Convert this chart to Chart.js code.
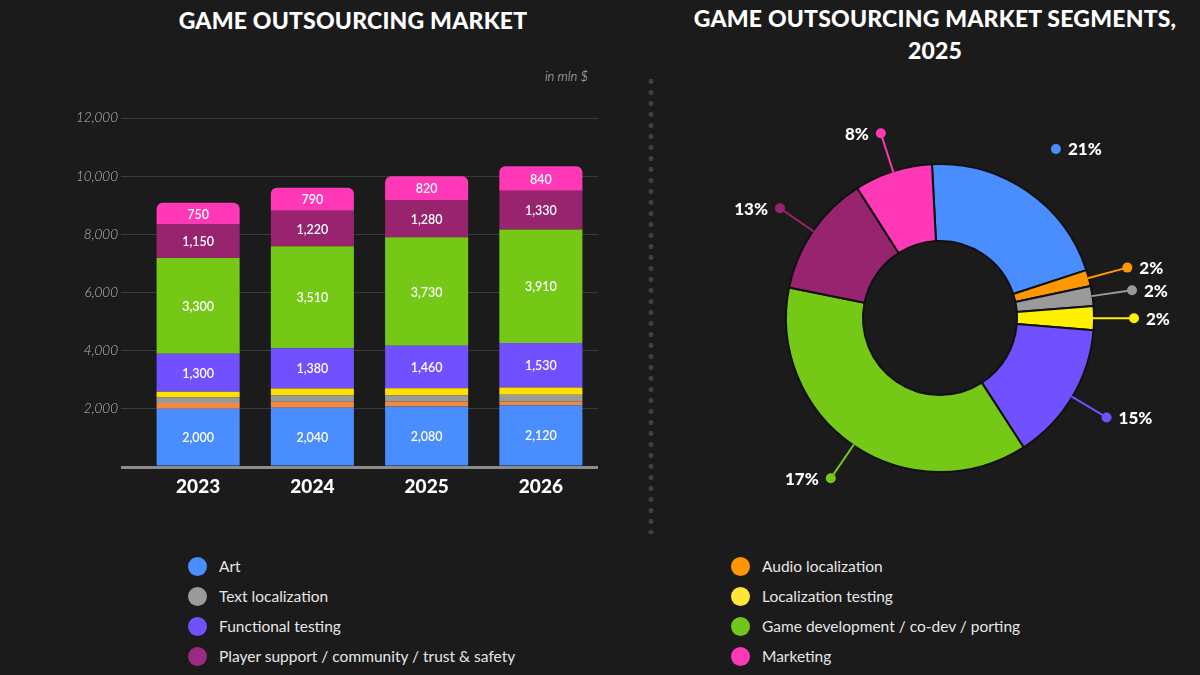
<!DOCTYPE html>
<html>
<head>
<meta charset="utf-8">
<script src="https://cdn.jsdelivr.net/npm/chart.js@4.4.1/dist/chart.umd.min.js"></script>
<style>
  html, body { margin:0; padding:0; background:#1b1b1b; }
  body { width:1200px; height:675px; position:relative; overflow:hidden; font-family:'Lato', sans-serif; color:#fff; }
  .title { position:absolute; text-align:center; font-weight:900; font-size:23px; line-height:32px; letter-spacing:0.2px; color:#fff; }
  #unit { position:absolute; left:520px; top:68px; width:68px; text-align:right; font-style:italic; font-weight:300; font-size:13px; color:#d0d0d0; }
  #sep { position:absolute; left:648px; top:76px; width:6px; height:458px;
         background-image: radial-gradient(circle, #3e3e3e 2.4px, transparent 2.8px);
         background-size: 6px 11px; background-repeat: repeat-y; }
  canvas { position:absolute; }
  .legcol { position:absolute; }
  .legitem { position:relative; height:30px; font-size:15.5px; color:#e6e6e6; }
  .legdot { position:absolute; left:0; top:5px; width:19px; height:19px; border-radius:50%; }
  .legtxt { position:absolute; left:31px; top:4px; white-space:nowrap; line-height:20px; }
</style>
</head>
<body>
<div class="title" style="left:103px; top:4px; width:500px;">GAME OUTSOURCING MARKET</div>
<div class="title" style="left:660px; top:2px; width:550px;">GAME OUTSOURCING MARKET SEGMENTS,<br>2025</div>
<div id="unit">in mln $</div>
<div id="sep"></div>
<canvas id="bar" width="650" height="520" style="left:0; top:0;"></canvas>
<canvas id="pie" width="540" height="470" style="left:660px; top:60px;"></canvas>
<div class="legcol" id="legLeft" style="left:188px; top:552px;"></div>
<div class="legcol" id="legRight" style="left:731px; top:552px;"></div>
<script>
// ---- data ----
const years = ['2023', '2024', '2025', '2026'];
const seriesNames = ['Art', 'Audio localization', 'Text localization', 'Localization testing',
  'Functional testing', 'Game development / co-dev / porting',
  'Player support / community / trust & safety', 'Marketing'];
const art = [2000, 2040, 2080, 2120];
const audioLocalization = [200, 200, 170, 130];
const textLocalization = [190, 220, 210, 230];
const localizationTesting = [200, 240, 250, 250];
const functionalTesting = [1300, 1380, 1460, 1530];
const gameDevelopment = [3300, 3510, 3730, 3910];
const playerSupport = [1150, 1220, 1280, 1330];
const marketing = [750, 790, 820, 840];
const segmentYearIndex = 2; // 2025
const segmentPctLabels = ['21%', '2%', '2%', '2%', '15%', '17%', '13%', '8%'];
const yMax = 12000;
const yStep = 2000;

// ---- styles ----
const barColors = ['#4a8dff', '#f3893f', '#9a9a9a', '#ffe000', '#7150ff', '#75c815', '#98246f', '#ff38b8'];
const pieColors = ['#4a8dff', '#ff9800', '#9a9a9a', '#fff000', '#7150ff', '#75c815', '#98246f', '#ff38b8'];
const legendColors = ['#4a8dff', '#ff9500', '#9a9a9a', '#ffe53a', '#7150ff', '#72c51c', '#9b2a83', '#ff38b8'];
const labelledSeries = [true, false, false, false, true, true, true, true];
const leaderLine = [false, true, true, true, true, true, true, true];

const allSeries = [art, audioLocalization, textLocalization, localizationTesting,
  functionalTesting, gameDevelopment, playerSupport, marketing];

const fmt = v => v.toLocaleString('en-US');

// ---- bar chart ----
const barLabelPlugin = {
  id: 'barLabels',
  afterDatasetsDraw(chart) {
    const ctx = chart.ctx;
    ctx.save();
    ctx.fillStyle = '#ffffff';
    ctx.font = '600 12.5px Lato';
    ctx.textAlign = 'center';
    ctx.textBaseline = 'middle';
    chart.data.datasets.forEach((ds, di) => {
      if (!labelledSeries[di]) return;
      chart.getDatasetMeta(di).data.forEach((el, i) => {
        const p = el.getProps(['x', 'y', 'base'], true);
        ctx.fillText(fmt(ds.data[i]), p.x, (p.y + p.base) / 2 + 1);
      });
    });
    ctx.restore();
  }
};

new Chart(document.getElementById('bar'), {
  type: 'bar',
  data: {
    labels: years,
    datasets: allSeries.map((s, i) => ({
      label: seriesNames[i],
      data: s,
      backgroundColor: barColors[i],
      borderWidth: 0,
      borderSkipped: false,
      borderRadius: i === allSeries.length - 1 ? { topLeft: 6, topRight: 6, bottomLeft: 0, bottomRight: 0 } : 0,
      categoryPercentage: 1,
      barPercentage: 0.727
    }))
  },
  options: {
    responsive: false,
    animation: false,
    devicePixelRatio: 1,
    layout: { padding: { left: 0, right: 52, top: 118, bottom: 0 } },
    plugins: { legend: { display: false }, tooltip: { enabled: false } },
    scales: {
      x: {
        stacked: true,
        grid: { display: false, drawTicks: false },
        border: { display: false },
        ticks: { color: '#ffffff', font: { family: 'Lato', size: 19, weight: '900' }, padding: 8 },
        afterFit(scale) { scale.height = 53; }
      },
      y: {
        stacked: true,
        min: 0, max: yMax,
        border: { display: false },
        grid: {
          color: c => (c.tick && c.tick.value === 0) ? '#8c8c8c' : '#3b3b3b',
          lineWidth: c => (c.tick && c.tick.value === 0) ? 3 : 1,
          tickLength: 20,
          drawTicks: true
        },
        ticks: {
          stepSize: yStep,
          color: '#bdbdbd',
          padding: 3,
          font: { family: 'Lato', size: 13.5, style: 'italic', weight: '300' },
          callback: v => v === 0 ? '' : fmt(v)
        },
        afterFit(scale) { scale.width = 141; }
      }
    }
  },
  plugins: [barLabelPlugin]
});

// ---- doughnut ----
const pieValues = allSeries.map(s => s[segmentYearIndex]);

const pieLabelPlugin = {
  id: 'pieLabels',
  afterDatasetsDraw(chart) {
    const ctx = chart.ctx;
    const meta = chart.getDatasetMeta(0);
    ctx.save();
    meta.data.forEach((arc, i) => {
      const p = arc.getProps(['x', 'y', 'startAngle', 'endAngle', 'outerRadius'], true);
      const mid = (p.startAngle + p.endAngle) / 2;
      const c = Math.cos(mid), s = Math.sin(mid);
      const rDot = p.outerRadius + (leaderLine[i] ? 40 : 51);
      const dx = p.x + c * rDot, dy = p.y + s * rDot;
      ctx.strokeStyle = pieColors[i];
      ctx.fillStyle = pieColors[i];
      if (leaderLine[i]) {
        ctx.lineWidth = 2;
        ctx.beginPath();
        ctx.moveTo(p.x + c * (p.outerRadius - 1), p.y + s * (p.outerRadius - 1));
        ctx.lineTo(dx, dy);
        ctx.stroke();
      }
      ctx.beginPath();
      ctx.arc(dx, dy, 5, 0, Math.PI * 2);
      ctx.fill();
      ctx.fillStyle = '#ffffff';
      ctx.font = '900 17px Lato';
      ctx.textBaseline = 'middle';
      if (c >= 0) { ctx.textAlign = 'left'; ctx.fillText(segmentPctLabels[i], dx + 12, dy + 1); }
      else { ctx.textAlign = 'right'; ctx.fillText(segmentPctLabels[i], dx - 12, dy + 1); }
    });
    ctx.restore();
  }
};

new Chart(document.getElementById('pie'), {
  type: 'doughnut',
  data: {
    labels: seriesNames,
    datasets: [{
      data: pieValues,
      backgroundColor: pieColors,
      borderColor: '#111111',
      borderWidth: 2,
      hoverOffset: 0,
      offset: 0
    }]
  },
  options: {
    responsive: false,
    animation: false,
    devicePixelRatio: 1,
    cutout: '50%',
    rotation: -3,
    layout: { padding: { left: 125, right: 105, top: 103, bottom: 57 } },
    plugins: { legend: { display: false }, tooltip: { enabled: false } }
  },
  plugins: [pieLabelPlugin]
});

// ---- legend (two columns) ----
const leftOrder = [0, 2, 4, 6];
const rightOrder = [1, 3, 5, 7];
function buildLegend(el, order) {
  order.forEach(i => {
    const item = document.createElement('div');
    item.className = 'legitem';
    const dot = document.createElement('div');
    dot.className = 'legdot';
    dot.style.background = legendColors[i];
    const txt = document.createElement('div');
    txt.className = 'legtxt';
    txt.textContent = seriesNames[i];
    item.appendChild(dot); item.appendChild(txt);
    el.appendChild(item);
  });
}
buildLegend(document.getElementById('legLeft'), leftOrder);
buildLegend(document.getElementById('legRight'), rightOrder);
</script>
</body>
</html>
